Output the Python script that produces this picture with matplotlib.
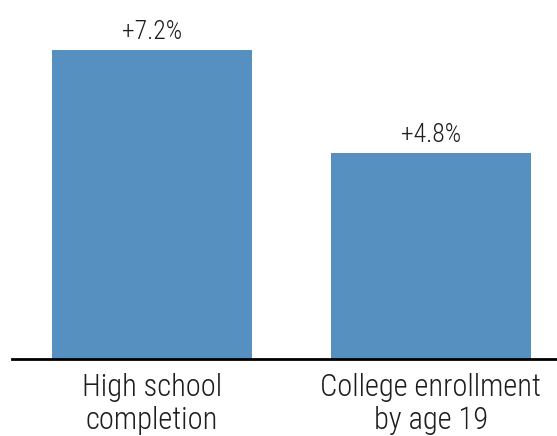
import matplotlib.pyplot as plt

categories = ["High school\ncompletion", "College enrollment\nby age 19"]
values = [7.2, 4.8]
value_labels = ["+7.2%", "+4.8%"]

plt.rcParams["font.family"] = ["Roboto Condensed", "DejaVu Sans"]
plt.rcParams["font.weight"] = 300

fig = plt.figure(figsize=(5.57, 4.36), dpi=100)
ax = fig.add_axes([12 / 557, 77 / 436, 545 / 557, 359 / 436])

x = range(len(values))
bars = ax.bar(x, values, width=0.717, color="#5590c0", zorder=2)

for b, lab in zip(bars, value_labels):
    ax.text(b.get_x() + b.get_width() / 2, b.get_height() + 0.14, lab,
            ha="center", va="bottom", fontsize=18.5, color="#1e1e1e")

ax.set_xlim(-0.502, 1.452)
ax.set_ylim(0, 8.365)
ax.set_xticks(list(x))
ax.set_xticklabels(categories, fontsize=22, color="#1e1e1e", linespacing=1.2)
ax.tick_params(axis="x", length=0, pad=10)
ax.set_yticks([])
for side in ["top", "right", "left"]:
    ax.spines[side].set_visible(False)
ax.spines["bottom"].set_linewidth(2)
ax.spines["bottom"].set_color("black")

fig.savefig("out.png", dpi=100)
